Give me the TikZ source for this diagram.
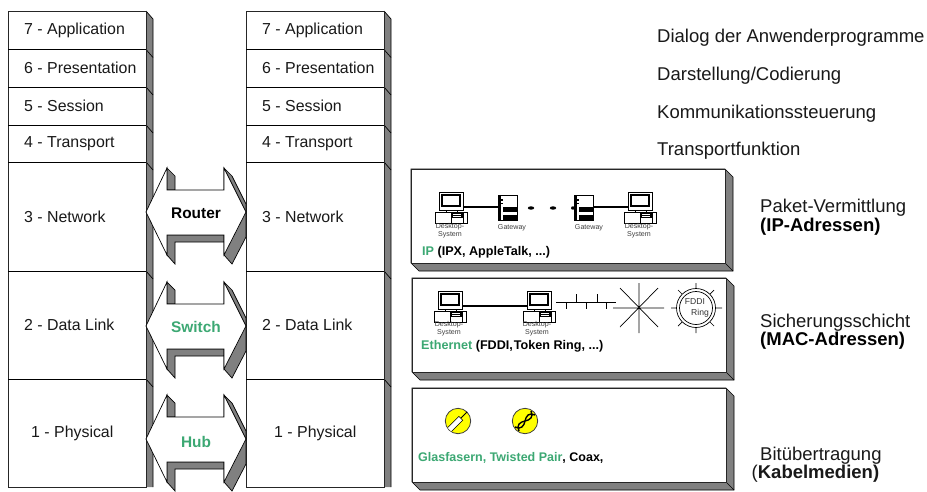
\documentclass[tikz,border=0pt]{standalone}
\usepackage{fontspec}
\setmainfont{Liberation Sans}
\definecolor{grn}{HTML}{3CA873}
\definecolor{sidegray}{HTML}{808080}
\definecolor{ylw}{HTML}{FFFF00}
\newcommand{\fs}[1]{\fontsize{#1}{#1}\selectfont}
\tikzset{
 face/.style={draw=black!85,line width=.8pt,fill=white},
 side/.style={draw=black,line width=.7pt,fill=sidegray},
 layer/.style={font=\fs{15.9},text=black!90,anchor=west,inner sep=0pt},
 note/.style={font=\fs{18.5},text=black!90,anchor=west,inner sep=0pt},
 notebold/.style={font=\bfseries\fs{18.5},anchor=west,inner sep=0pt},
 small/.style={font=\fontsize{7.1}{8.2}\selectfont,text=black!75,align=center,inner sep=0pt},
 tag/.style={font=\bfseries\fs{12.6},anchor=west,inner sep=0pt},
 dev/.style={font=\bfseries\fs{15.4},inner sep=0pt},
 wire/.style={line width=1.8pt,black},
 thin wire/.style={line width=.7pt,black}
}
\newcommand{\stack}[2]{%
 \fill[sidegray] (#2,11)--(#2+7,19)--(#2+7,487)--(#2,487)--cycle;
 \draw[black,line width=.7pt] (#2,11)--(#2+7,19)--(#2+7,487);
 \foreach \yy in {49.5,87,125,162,271,379}{
  \draw[black,line width=.7pt] (#2,\yy)--(#2+7,\yy+8);}
 \draw[face] (#1,11) rectangle (#2,487);
 \foreach \yy in {49.5,87,125,162,271,379}{
  \draw[black,line width=.7pt] (#1,\yy)--(#2,\yy);}
}
\newcommand{\dblarrow}[1]{%
 \begin{scope}[yshift=-#1 pt]
 \draw[side] (224,0)--(232,8)--(246,36)--(246,69)--(232,96)--(224,87)--cycle;
 \draw[side] (167,67)--(224,67)--(224,74)--(175,74)--(175,96)--(167,87)--cycle;
 \draw[side] (167,0)--(175,8)--(175,22)--(167,22)--cycle;
 \draw[black,fill=white,line width=.7pt] (167,0)--(146,44)--(167,87)--(167,67)--(224,67)--(224,87)--(246,44)--(224,0)--(224,22)--(167,22)--cycle;
 \end{scope}}
\newcommand{\panel}[4]{%
 \draw[side] (#1,#3)--(#2,#3)--(#2+8,#3+8)--(#2+8,#4+8)--(#1+8,#4+8)--(#1,#4)--cycle;
 \draw[black,line width=.7pt] (#2,#4)--(#2+8,#4+8);
 \draw[face] (#1,#3) rectangle (#2,#4);
}
\newcommand{\desktop}[2]{%
 \begin{scope}[shift={(#1,#2)}]
 \draw[black,fill=white,line width=.6pt] (0,0) rectangle (24,18);
 \draw[black,line width=1.3pt,fill=white] (3,3) rectangle (21,14);
 \draw[black,fill=white,line width=.6pt] (-4,20.5) rectangle (28,31);
 \draw[black,fill=white,line width=.6pt] (12,20.5) rectangle (24,31);
 \fill[black] (12,20.5) rectangle (24,26);
 \draw[white,line width=.5pt] (14,22.5)--(22,22.5) (14,24.5)--(22,24.5);
 \draw[black,line width=.5pt] (7,18)--(7,20.5) (18,18)--(18,20.5);
 \end{scope}}
\newcommand{\gateway}[2]{%
 \begin{scope}[shift={(#1,#2)}]
 \draw[black,fill=white,line width=.7pt] (0,0) rectangle (19,25);
 \fill[black] (0,0) rectangle (3,25);
 \fill[black] (5,12) rectangle (19,17);
 \fill[black] (5,20) rectangle (19,25);
 \fill[black] (3,4) rectangle (5,6);
 \fill[black] (3,8) rectangle (5,9);
 \end{scope}}
\begin{document}
\begin{tikzpicture}[x=1pt,y=-1pt]
\useasboundingbox (0,0) rectangle (927,491);
\fill[white] (0,0) rectangle (927,491);
\stack{8}{146}
\stack{246}{384}
\dblarrow{168}\dblarrow{282}\dblarrow{395}
\node[dev] (router) at (196,213) {Router};
\node[dev,text=grn] (switch) at (196,327) {Switch};
\node[dev,text=grn] (hub) at (196,442) {Hub};
\foreach \nm/\txt/\yy in {a/7 - Application/30.5,b/6 - Presentation/68,c/5 - Session/106,d/4 - Transport/143.5}{
 \node[layer] (l\nm) at (24,\yy) {\txt};
 \node[layer] (r\nm) at (262,\yy) {\txt};}
\node[layer] (l3) at (24,217) {3 - Network};
\node[layer] (r3) at (262,217) {3 - Network};
\node[layer] (l2) at (24,325) {2 - Data Link};
\node[layer] (r2) at (262,325) {2 - Data Link};
\node[layer] (l1) at (31,433) {1 - Physical};
\node[layer] (r1) at (274,433) {1 - Physical};
\node[note] (n7) at (657,37.5) {Dialog der Anwenderprogramme};
\node[note] (n6) at (657,75.5) {Darstellung/Codierung};
\node[note] (n5) at (657,113.5) {Kommunikationssteuerung};
\node[note] (n4) at (657,151) {Transportfunktion};
\panel{411}{725}{169}{263}
\panel{412}{726}{278}{372}
\panel{412}{726}{388}{482}
% IP panel
\draw[wire] (463,207)--(498,207);
\draw[wire] (593,207)--(628,207);
\foreach \xx in {531,553}{\fill[black] (\xx,208) ellipse (3.2 and 1.7);}
\fill[black] (573,208) ellipse (2 and 1.7);
\desktop{439}{192}
\desktop{628}{192}
\gateway{498}{195}
\gateway{574}{195}
\node[small] (d1) at (450,231) {Desktop-\\System};
\node[small] (d2) at (639,231) {Desktop-\\System};
\node[small] (g1) at (512,228) {Gateway};
\node[small] (g2) at (589,228) {Gateway};
\node[tag] (ip) at (422,252) {\textcolor{grn}{IP} (IPX, AppleTalk, ...)};
% Ethernet panel
\draw[wire] (462,306)--(527,306);
\desktop{438}{291}
\desktop{527}{291}
\node[small] (d3) at (449,329) {Desktop-\\System};
\node[small] (d4) at (537,329) {Desktop-\\System};
\node[tag] (eth) at (421,346) {\textcolor{grn}{Ethernet} (FDDI,\kern1pt Token Ring, ...)};
\draw[thin wire] (556,302)--(616,302) (576,294)--(576,302) (597,294)--(597,302)
  (566,302)--(566,309) (586,302)--(586,309) (606,302)--(606,309);
\draw[thin wire] (613,308)--(664,308) (639,283)--(639,333) (620,288)--(658,327) (620,327)--(658,288);
\draw[thin wire] (671,308)--(722,308) (696,283)--(696,333) (678,290)--(714,326) (678,326)--(714,290);
\draw[thin wire,fill=white] (696,308) circle (19.5);
\draw[thin wire,fill=white] (696,308) circle (16.5);
\node[font=\fs{8.6},text=black!80,inner sep=0pt] (f1) at (695,302) {FDDI};
\node[font=\fs{8.6},text=black!80,inner sep=0pt] (f2) at (700,313) {Ring};
% Media panel
\draw[black!75,fill=ylw,line width=.8pt] (458,421) circle (12.7);
\draw[black!75,fill=ylw,line width=.8pt] (525,421) circle (12.7);
\draw[black,line width=6pt] (450,429)--(461,418);
\draw[white,line width=4.6pt] (449.5,429.5)--(460.5,418.5);
\draw[black,line width=.8pt] (461,418)--(467,412);
\draw[black,line width=1.4pt] (515,427) .. controls (521,430) and (524,426) .. (525,421) .. controls (526,416) and (529,412) .. (535,415);
\draw[black,line width=1.4pt] (519,431) .. controls (516,425) and (520,422) .. (525,421) .. controls (530,420) and (534,417) .. (531,411);
\node[tag] (med) at (418,458) {\fs{12.5}\textcolor{grn}{Glasfasern, Twisted Pair}, Coax,};
% right notes
\node[note] (p1) at (760,208) {Paket-Vermittlung};
\node[notebold] (p2) at (760,227) {(IP-Adressen)};
\node[note] (s1) at (760,323) {Sicherungsschicht};
\node[notebold] (s2) at (760,341) {(MAC-Adressen)};
\node[note] (b1) at (760,456) {Bitübertragung};
\node[note] (b2) at (751.5,474) {(\textbf{Kabelmedien)}};
\end{tikzpicture}
\end{document}
